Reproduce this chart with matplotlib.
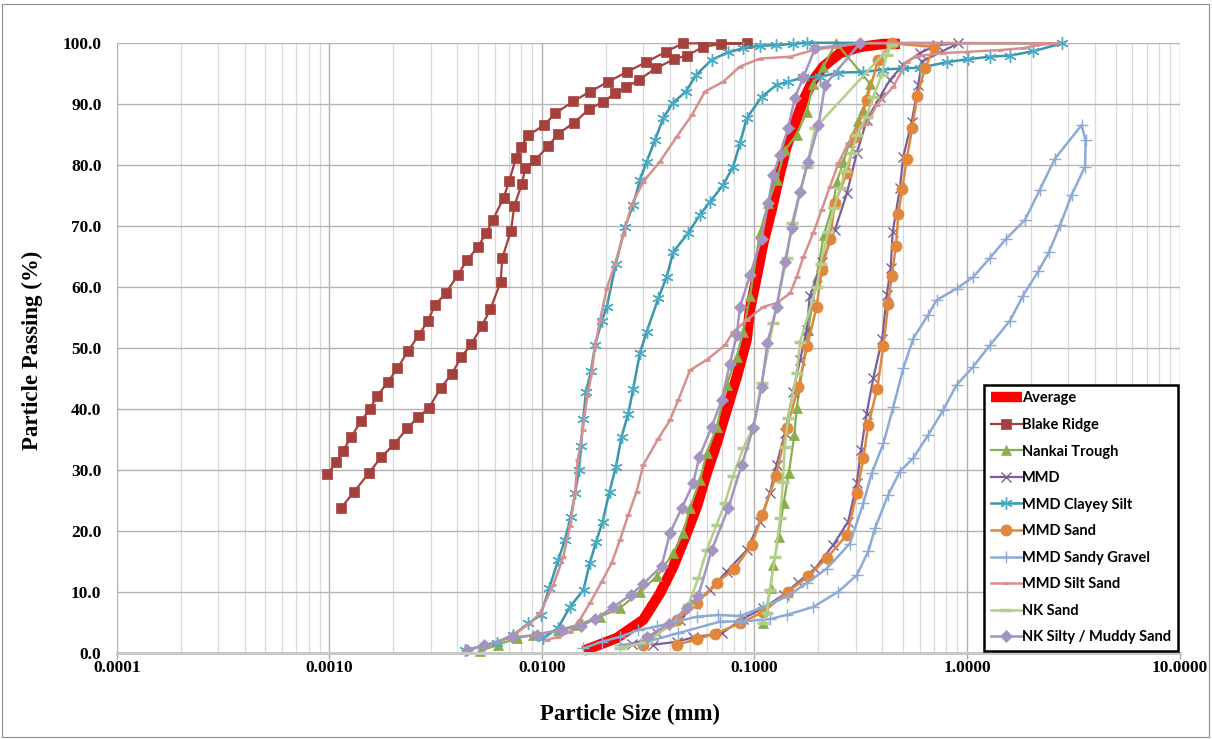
import numpy as np
import matplotlib
matplotlib.use('Agg')
import matplotlib.pyplot as plt
from matplotlib.patches import Rectangle
from matplotlib.ticker import FixedLocator, LogLocator, FormatStrFormatter

# particle size (mm), percent passing
average = [(0.01566, 0.3), (0.0225, 2.4), (0.0300, 5.4), (0.0359, 9.7), (0.0415, 14.1), (0.0480, 19.6),
           (0.0535, 23.9), (0.0596, 29.4), (0.0664, 34.3), (0.0740, 39.8), (0.0825, 45.2), (0.0919, 51.3),
           (0.0952, 56.2), (0.1024, 61.6), (0.110, 67.1), (0.1205, 72.6), (0.1318, 78.6), (0.1417, 83.0),
           (0.155, 86.8), (0.170, 90.6), (0.189, 93.9), (0.211, 96.1), (0.2525, 98.3), (0.313, 99.3),
           (0.404, 99.8), (0.483, 99.8)]

blake_ridge = [(0.00098, 29.3), (0.00108, 31.2), (0.00116, 33.1), (0.00127, 35.4), (0.00141, 38.0),
               (0.00155, 39.9), (0.00168, 42.1), (0.00188, 44.3), (0.00209, 46.6), (0.00235, 49.5),
               (0.00264, 52.1), (0.00291, 54.4), (0.00314, 57.0), (0.00353, 58.9), (0.00403, 62.0),
               (0.00444, 64.3), (0.00499, 66.5), (0.00548, 68.8), (0.00589, 71.0), (0.00661, 74.6),
               (0.00703, 77.4), (0.00755, 81.1), (0.00797, 82.9), (0.00863, 84.8), (0.01023, 86.5),
               (0.01156, 88.4), (0.01405, 90.4), (0.0169, 92.0), (0.0205, 93.6), (0.0251, 95.2),
               (0.0309, 96.8), (0.0382, 98.5), (0.0461, 99.9),
               (0.0918, 99.9), (0.0695, 99.8), (0.0574, 99.3), (0.0480, 97.9), (0.0418, 97.3),
               (0.0344, 95.8), (0.0285, 93.9), (0.0250, 92.7), (0.0221, 91.7), (0.0194, 90.3),
               (0.01665, 89.1), (0.0142, 86.9), (0.01194, 85.1), (0.01069, 83.0), (0.00931, 80.8),
               (0.00836, 79.4), (0.00804, 76.8), (0.00741, 73.2), (0.00716, 69.2), (0.00651, 64.7),
               (0.0064, 60.8), (0.00572, 56.3), (0.00521, 53.5), (0.00466, 50.6), (0.00416, 48.4),
               (0.00377, 45.7), (0.00334, 43.4), (0.00294, 40.1), (0.00261, 38.6), (0.00233, 36.8),
               (0.00202, 34.2), (0.00175, 32.0), (0.00153, 29.4), (0.00131, 26.4), (0.00114, 23.8)]

nankai_trough = [(0.00512, 0.3), (0.00624, 1.3), (0.00761, 2.4), (0.00911, 2.9), (0.01194, 3.7),
                 (0.01458, 4.5), (0.01876, 5.9), (0.0233, 7.3), (0.0289, 10.0), (0.0347, 12.5),
                 (0.0415, 16.3), (0.0462, 19.6), (0.0497, 23.7), (0.0554, 28.3), (0.0596, 32.7),
                 (0.0664, 37.0), (0.0740, 43.9), (0.0825, 48.5), (0.0885, 52.6), (0.0952, 58.4),
                 (0.106, 68.8), (0.116, 73.7), (0.127, 77.5), (0.139, 82.4), (0.158, 84.9),
                 (0.176, 88.7), (0.189, 93.3), (0.211, 96.1), (0.242, 100.0),
                 (0.349, 93.3), (0.325, 89.0), (0.308, 87.2), (0.281, 83.8), (0.262, 80.5),
                 (0.244, 77.2), (0.235, 73.7), (0.212, 68.5), (0.196, 61.6), (0.179, 52.9),
                 (0.158, 40.1), (0.154, 35.7), (0.145, 29.4), (0.137, 24.5), (0.130, 19.0),
                 (0.1225, 14.4), (0.119, 10.6), (0.110, 4.8)]

mmd = [(0.0264, 1.5), (0.0311, 2.1), (0.0347, 3.2), (0.0446, 5.4), (0.0525, 8.0), (0.0618, 10.3),
       (0.0740, 13.3), (0.0919, 16.8), (0.106, 21.5), (0.118, 26.1), (0.127, 30.8), (0.139, 36.0),
       (0.152, 42.8), (0.164, 48.0), (0.176, 52.9), (0.182, 58.4), (0.208, 64.0), (0.239, 69.3),
       (0.272, 75.3), (0.303, 81.9), (0.337, 87.3), (0.389, 91.1), (0.434, 93.9), (0.501, 96.4),
       (0.600, 98.3), (0.719, 99.6), (0.909, 99.9),
       (0.611, 96.9), (0.590, 93.1), (0.549, 87.0), (0.501, 81.3), (0.483, 76.1), (0.447, 69.0),
       (0.437, 63.0), (0.419, 58.6), (0.399, 51.5), (0.362, 45.0), (0.337, 39.2), (0.317, 33.2),
       (0.303, 27.8), (0.276, 21.5), (0.235, 17.7), (0.193, 13.8), (0.161, 11.6), (0.137, 9.5),
       (0.110, 7.3), (0.0885, 5.6), (0.0701, 3.2), (0.0515, 2.5), (0.0431, 1.8), (0.0334, 1.3)]

mmd_clayey_silt = [(0.00435, 0.4), (0.00613, 1.6), (0.00733, 2.9), (0.00863, 4.8), (0.00987, 6.2),
                   (0.01083, 10.6), (0.01194, 15.2), (0.01284, 18.5), (0.01366, 22.3), (0.01432, 26.1),
                   (0.01495, 30.0), (0.01527, 33.9), (0.01566, 38.3), (0.01611, 42.8), (0.01702, 46.1),
                   (0.01778, 50.4), (0.0191, 54.3), (0.0202, 56.7), (0.0223, 63.8), (0.0246, 69.8),
                   (0.0269, 73.4), (0.0289, 77.5), (0.0311, 80.5), (0.0340, 84.0), (0.0372, 87.6),
                   (0.0412, 90.1), (0.0476, 92.0), (0.0531, 94.7), (0.0629, 97.2), (0.0748, 98.4),
                   (0.0885, 99.1), (0.106, 99.5), (0.126, 99.6), (0.151, 99.8), (0.176, 100.0),
                   (2.80, 99.9), (2.05, 98.6), (1.59, 97.9), (1.28, 97.7), (1.01, 97.3), (0.802, 96.8),
                   (0.600, 95.9), (0.501, 95.8), (0.404, 95.6), (0.325, 95.2), (0.248, 95.1),
                   (0.203, 94.4), (0.170, 94.3), (0.144, 93.6), (0.127, 93.1), (0.108, 91.1),
                   (0.0919, 87.6), (0.0855, 83.5), (0.0794, 79.7), (0.0713, 76.7), (0.0618, 73.9),
                   (0.0554, 71.8), (0.0488, 68.8), (0.0415, 65.7), (0.0386, 61.6), (0.0353, 58.1),
                   (0.0311, 52.6), (0.0289, 49.1), (0.0269, 43.3), (0.0255, 39.2), (0.0237, 35.4),
                   (0.0223, 30.5), (0.0208, 26.4), (0.0193, 21.5), (0.0180, 18.2), (0.0168, 14.7),
                   (0.0157, 10.3), (0.01355, 7.5), (0.0119, 4.0), (0.01015, 2.4)]

mmd_sand = [(0.0300, 1.3), (0.0431, 5.4), (0.0535, 8.1), (0.0664, 11.5), (0.0804, 13.7), (0.0970, 17.7),
            (0.109, 22.6), (0.126, 28.9), (0.1417, 36.8), (0.161, 43.6), (0.177, 50.3), (0.196, 56.7),
            (0.207, 62.7), (0.2265, 67.9), (0.239, 73.7), (0.272, 78.6), (0.297, 84.6), (0.337, 90.6),
            (0.382, 97.2), (0.442, 99.9),
            (0.701, 99.3), (0.634, 95.8), (0.583, 91.3), (0.552, 86.0), (0.520, 80.9), (0.496, 76.0),
            (0.475, 71.9), (0.463, 66.7), (0.442, 61.8), (0.426, 57.2), (0.404, 50.3), (0.378, 43.3),
            (0.343, 37.3), (0.325, 31.9), (0.303, 26.1), (0.272, 19.3), (0.220, 15.6), (0.179, 12.5),
            (0.144, 10.0), (0.110, 6.7), (0.0855, 4.8), (0.0652, 3.1), (0.0536, 2.2), (0.0431, 1.3)]

mmd_sandy_gravel = [(0.01566, 0.7), (0.0191, 1.8), (0.0233, 2.6), (0.0284, 3.7), (0.0347, 4.3),
                    (0.0535, 5.9), (0.0676, 6.2), (0.0855, 6.0), (0.110, 7.5), (0.1417, 9.2),
                    (0.176, 11.4), (0.219, 13.8), (0.281, 17.9), (0.325, 24.5), (0.356, 29.4),
                    (0.404, 34.3), (0.450, 40.3), (0.501, 46.6), (0.558, 51.5), (0.657, 55.4),
                    (0.719, 57.8), (0.893, 59.7), (1.07, 61.6), (1.28, 64.7), (1.53, 67.9),
                    (1.87, 70.9), (2.20, 75.9), (2.59, 81.0), (3.46, 86.5), (3.61, 84.0),
                    (3.59, 79.7), (3.10, 75.0), (2.74, 70.1), (2.43, 65.7), (2.16, 62.5), (1.83, 58.5),
                    (1.59, 54.4), (1.28, 50.4), (1.07, 46.9), (0.893, 43.9), (0.773, 39.8),
                    (0.657, 35.7), (0.558, 31.9), (0.483, 29.7), (0.426, 25.9), (0.369, 20.4),
                    (0.343, 16.6), (0.303, 12.7), (0.248, 10.0), (0.189, 7.5), (0.1417, 6.2),
                    (0.118, 5.5), (0.0855, 5.1), (0.0688, 5.1), (0.0438, 3.2), (0.0289, 1.5),
                    (0.0233, 1.3)]

mmd_silt_sand = [(0.00435, 0.4), (0.0061, 1.7), (0.0074, 3.0), (0.0087, 4.7), (0.0098, 6.5),
                 (0.01132, 11.1), (0.01261, 15.7), (0.01355, 20.7), (0.01432, 26.1), (0.01474, 31.6),
                 (0.01556, 36.5), (0.01635, 42.0), (0.01715, 45.8), (0.01778, 50.2), (0.01876, 54.5),
                 (0.0202, 59.7), (0.0221, 63.8), (0.0242, 68.5), (0.0264, 73.4), (0.0300, 77.2),
                 (0.0359, 80.5), (0.0431, 84.6), (0.0507, 88.1), (0.0585, 92.0), (0.0713, 93.6),
                 (0.0855, 96.1), (0.106, 97.4), (0.147, 97.7), (0.189, 98.8), (0.235, 99.3),
                 (0.313, 99.9),
                 (2.64, 99.9), (2.12, 99.6), (1.84, 99.1), (1.43, 98.8), (0.996, 98.5), (0.773, 98.3),
                 (0.579, 97.8), (0.520, 96.9), (0.450, 92.8), (0.376, 89.8), (0.337, 86.7),
                 (0.303, 85.4), (0.276, 83.5), (0.248, 80.2), (0.2265, 76.4), (0.207, 72.6),
                 (0.189, 68.8), (0.170, 64.9), (0.158, 61.6), (0.147, 58.9), (0.127, 57.3),
                 (0.110, 56.7), (0.0919, 54.5), (0.0794, 52.6), (0.0726, 50.4), (0.0596, 48.0),
                 (0.0497, 46.3), (0.0438, 41.4), (0.0400, 38.1), (0.0353, 35.1), (0.0300, 30.8),
                 (0.0279, 26.4), (0.0255, 22.6), (0.0233, 18.5), (0.0213, 14.7), (0.0191, 11.6),
                 (0.0168, 8.1), (0.0151, 5.4), (0.01355, 3.4), (0.0119, 2.6), (0.01053, 2.1)]

nk_sand = [(0.0233, 0.7), (0.0311, 1.8), (0.0400, 4.5), (0.0488, 7.8), (0.0544, 12.2), (0.0596, 16.8),
           (0.0664, 21.0), (0.0726, 24.5), (0.0794, 29.0), (0.0885, 33.5), (0.0987, 37.0), (0.108, 44.2),
           (0.1225, 54.0), (0.1417, 64.7), (0.150, 70.5), (0.176, 79.7), (0.193, 86.0), (0.442, 99.6),
           (0.419, 98.0), (0.396, 94.7), (0.362, 91.1), (0.337, 87.9), (0.303, 84.9), (0.287, 81.9),
           (0.267, 78.9), (0.2525, 76.1), (0.237, 72.9), (0.222, 69.0), (0.205, 63.8), (0.196, 60.0),
           (0.164, 51.0), (0.158, 45.8), (0.144, 38.4), (0.139, 33.8), (0.136, 28.0), (0.132, 22.0),
           (0.125, 15.7), (0.118, 10.3), (0.114, 6.5), (0.110, 4.8)]

nk_silty_muddy_sand = [(0.00443, 0.4), (0.00534, 1.2), (0.00721, 2.5), (0.00945, 2.9), (0.0125, 3.8),
                       (0.01527, 4.4), (0.01778, 5.5), (0.0217, 7.5), (0.0262, 9.5), (0.0300, 11.3),
                       (0.0366, 14.2), (0.0400, 19.6), (0.0455, 23.7), (0.0515, 27.8), (0.0550, 32.1),
                       (0.0629, 37.0), (0.0701, 41.4), (0.0767, 47.4), (0.0825, 52.1), (0.0855, 56.7),
                       (0.0952, 61.9), (0.108, 67.9), (0.116, 73.7), (0.1225, 78.3), (0.1318, 81.6),
                       (0.144, 86.0), (0.155, 91.0), (0.170, 94.4), (0.193, 99.1), (0.313, 99.9),
                       (0.215, 93.1), (0.200, 86.5), (0.179, 80.5), (0.164, 75.6), (0.150, 69.6),
                       (0.139, 64.1), (0.127, 56.7), (0.115, 50.7), (0.108, 43.6), (0.0987, 36.8),
                       (0.0871, 30.8), (0.0753, 23.7), (0.0629, 16.8), (0.0544, 9.3), (0.0480, 7.3),
                       (0.0396, 4.7), (0.0311, 2.5)]

x_ticks = [0.0001, 0.001, 0.01, 0.1, 1.0, 10.0]
y_ticks = [0, 10, 20, 30, 40, 50, 60, 70, 80, 90, 100]

# (label, data, line colour, marker, marker size, marker colour, marker edge width, line width)
series = [
    ('Average', average, '#FF0000', None, 0, None, 0, 7.5),
    ('Blake Ridge', blake_ridge, '#A6403C', 's', 7, '#A6403C', 0.5, 1.6),
    ('Nankai Trough', nankai_trough, '#8AAE4A', '^', 7.5, '#8AAE4A', 0.5, 1.6),
    ('MMD', mmd, '#7A5E9C', 'x', 6.5, '#7A5E9C', 1.0, 1.6),
    ('MMD Clayey Silt', mmd_clayey_silt, '#3996AC', (6, 2, 0), 9, '#4BACC6', 1.0, 1.8),
    ('MMD Sand', mmd_sand, '#E2863C', 'o', 8, '#E2863C', 0.5, 1.8),
    ('MMD Sandy Gravel', mmd_sandy_gravel, '#8DAAD6', '+', 9, '#8DAAD6', 1.0, 1.8),
    ('MMD Silt Sand', mmd_silt_sand, '#D6908D', '_', 5, '#D6908D', 2.0, 1.8),
    ('NK Sand', nk_sand, '#B3CE8A', '_', 9, '#B3CE8A', 2.5, 1.8),
    ('NK Silty / Muddy Sand', nk_silty_muddy_sand, '#A394C0', 'D', 6, '#A394C0', 0.5, 1.8),
]

fig = plt.figure(figsize=(12.12, 7.39), dpi=100)
ax = fig.add_axes([0.0963, 0.1168, 0.8770, 0.8254])

for label, pts, color, marker, ms, mcolor, mew, lw in series:
    xs = [p[0] for p in pts]
    ys = [p[1] for p in pts]
    if marker is None:
        ax.plot(xs, ys, color=color, lw=lw, solid_capstyle='butt', label=label, clip_on=False)
    else:
        ax.plot(xs, ys, color=color, lw=lw, marker=marker, ms=ms, mfc=mcolor, mec=mcolor,
                mew=mew, label=label, clip_on=False)

ax.set_xscale('log')
ax.set_xlim(1e-4, 10)
ax.set_ylim(0, 100)

ax.xaxis.set_major_locator(FixedLocator(x_ticks))
ax.xaxis.set_minor_locator(LogLocator(base=10, subs=np.arange(2, 10), numticks=20))
ax.xaxis.set_major_formatter(FormatStrFormatter('%.4f'))
ax.xaxis.set_minor_formatter(plt.NullFormatter())
ax.yaxis.set_major_locator(FixedLocator(y_ticks))
ax.yaxis.set_major_formatter(FormatStrFormatter('%.1f'))

ax.grid(which='major', axis='y', color='#B3B3B3', lw=1.0)
ax.grid(which='major', axis='x', color='#B0B0B0', lw=1.0)
ax.grid(which='minor', axis='x', color='#D9D9D9', lw=0.9)
ax.set_axisbelow(True)

for s in ['top', 'right', 'left']:
    ax.spines[s].set_visible(False)
ax.spines['bottom'].set_color('#C8C8C8')
ax.spines['bottom'].set_linewidth(2.2)

tick_font = dict(family='Liberation Serif', weight='bold', size=12.5)
ax.tick_params(axis='x', which='major', length=4, width=1, color='#A6A6A6', pad=1)
ax.tick_params(axis='x', which='minor', length=0)
ax.tick_params(axis='y', which='both', length=0, pad=11)
for t in ax.get_xticklabels() + ax.get_yticklabels():
    t.set_fontproperties(tick_font)

lab_font = dict(family='Liberation Serif', weight='bold', size=16.5)
ax.set_xlabel('Particle Size (mm)', va='center', **lab_font)
ax.xaxis.set_label_coords(0.483, -0.102)
ax.set_ylabel('Particle Passing (%)', va='center', **lab_font)
ax.yaxis.set_label_coords(-0.0797, 0.496)

leg = ax.legend(loc='lower right', bbox_to_anchor=(0.9984, 0.003), borderaxespad=0,
                frameon=True, fancybox=False, numpoints=1, handlelength=2.1, handletextpad=0.05,
                labelspacing=0.86, borderpad=0.45,
                prop=dict(family='Lato', weight='bold', size=10.5))
leg.get_frame().set_edgecolor('black')
leg.get_frame().set_linewidth(1.8)
leg.get_frame().set_alpha(1)

fig.patches.append(Rectangle((2 / 1212, 2 / 739), 1207 / 1212, 733 / 739, transform=fig.transFigure,
                             fill=False, ec='#8C8C8C', lw=0.8))

fig.savefig('out.png', dpi=100)
